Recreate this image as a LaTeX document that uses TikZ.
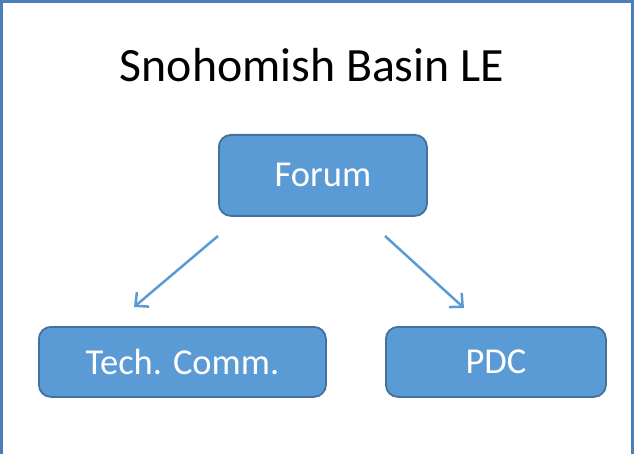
\documentclass[tikz,border=0pt]{standalone}
\usepackage{fontspec}
\setmainfont{Carlito}
\usetikzlibrary{arrows.meta}
\definecolor{boxfill}{HTML}{5B9BD5}
\definecolor{boxedge}{HTML}{41719C}
\definecolor{frameblue}{HTML}{4A7EBB}
\tikzset{
  orgbox/.style={draw=boxedge, line width=1.8pt, fill=boxfill, rounded corners=12pt,
    text=white, font=\fontsize{36.5}{40}\selectfont, inner sep=0pt, anchor=north west},
  conn/.style={draw=boxfill, line width=2.5pt, -{Straight Barb[length=10pt,width=19pt]}}
}
\begin{document}
\begin{tikzpicture}[x=1pt,y=-1pt]
\useasboundingbox (0,0) rectangle (634,454);
\clip (0,0) rectangle (634,454);
\draw[frameblue, line width=2.2pt] (1.5,1.5) rectangle (632.5,470);
\node[font=\fontsize{47.8}{52}\selectfont, anchor=base] (title) at (312,82) {Snohomish Basin LE};
\node[orgbox, minimum width=208pt, minimum height=81pt] (forum) at (218,134) {Forum};
\node[orgbox, minimum width=287pt, minimum height=70pt] (tech) at (38,326) {Tech. Comm.};
\node[orgbox, minimum width=220pt, minimum height=70pt] (pdc) at (385,326) {PDC};
\coordinate (l1) at (218,236);
\coordinate (l2) at (134,307);
\coordinate (r1) at (385,236);
\coordinate (r2) at (464,308);
\draw[conn] (l1) -- (l2);
\draw[conn] (r1) -- (r2);
\end{tikzpicture}
\end{document}
